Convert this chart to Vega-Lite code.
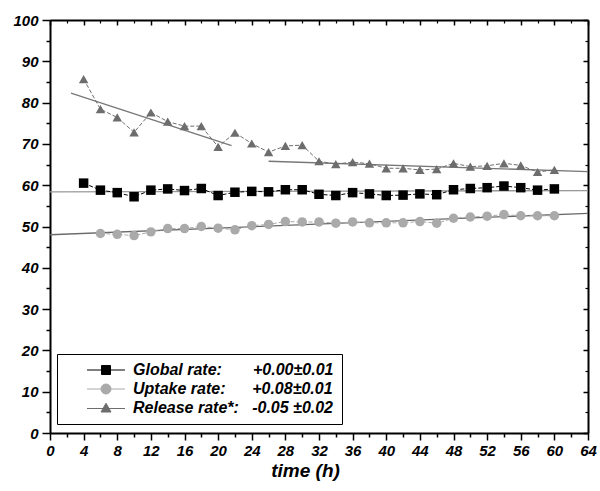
{
  "$schema": "https://vega.github.io/schema/vega-lite/v6.json",
  "width": 538,
  "height": 413,
  "padding": {"left": 0, "top": 0, "right": 5, "bottom": 5},
  "background": "white",
  "config": {
    "view": {"stroke": null},
    "font": "Liberation Sans",
    "axis": {"grid": false, "domainColor": "black", "tickColor": "black", "labelColor": "black", "titleColor": "black"}
  },
  "datasets": {
    "d": [
      {"t": 4, "v": 60.5, "s": "Global rate"},
      {"t": 6, "v": 58.8, "s": "Global rate"},
      {"t": 8, "v": 58.2, "s": "Global rate"},
      {"t": 10, "v": 57.2, "s": "Global rate"},
      {"t": 12, "v": 58.8, "s": "Global rate"},
      {"t": 14, "v": 59.1, "s": "Global rate"},
      {"t": 16, "v": 58.7, "s": "Global rate"},
      {"t": 18, "v": 59.2, "s": "Global rate"},
      {"t": 20, "v": 57.5, "s": "Global rate"},
      {"t": 22, "v": 58.3, "s": "Global rate"},
      {"t": 24, "v": 58.5, "s": "Global rate"},
      {"t": 26, "v": 58.4, "s": "Global rate"},
      {"t": 28, "v": 58.9, "s": "Global rate"},
      {"t": 30, "v": 58.9, "s": "Global rate"},
      {"t": 32, "v": 57.8, "s": "Global rate"},
      {"t": 34, "v": 57.5, "s": "Global rate"},
      {"t": 36, "v": 58.2, "s": "Global rate"},
      {"t": 38, "v": 57.9, "s": "Global rate"},
      {"t": 40, "v": 57.5, "s": "Global rate"},
      {"t": 42, "v": 57.6, "s": "Global rate"},
      {"t": 44, "v": 57.9, "s": "Global rate"},
      {"t": 46, "v": 57.7, "s": "Global rate"},
      {"t": 48, "v": 58.9, "s": "Global rate"},
      {"t": 50, "v": 59.2, "s": "Global rate"},
      {"t": 52, "v": 59.4, "s": "Global rate"},
      {"t": 54, "v": 59.8, "s": "Global rate"},
      {"t": 56, "v": 59.4, "s": "Global rate"},
      {"t": 58, "v": 58.8, "s": "Global rate"},
      {"t": 60, "v": 59.1, "s": "Global rate"},
      {"t": 6, "v": 48.3, "s": "Uptake rate"},
      {"t": 8, "v": 48.1, "s": "Uptake rate"},
      {"t": 10, "v": 47.8, "s": "Uptake rate"},
      {"t": 12, "v": 48.7, "s": "Uptake rate"},
      {"t": 14, "v": 49.5, "s": "Uptake rate"},
      {"t": 16, "v": 49.5, "s": "Uptake rate"},
      {"t": 18, "v": 50.0, "s": "Uptake rate"},
      {"t": 20, "v": 49.6, "s": "Uptake rate"},
      {"t": 22, "v": 49.2, "s": "Uptake rate"},
      {"t": 24, "v": 50.2, "s": "Uptake rate"},
      {"t": 26, "v": 50.5, "s": "Uptake rate"},
      {"t": 28, "v": 51.2, "s": "Uptake rate"},
      {"t": 30, "v": 51.1, "s": "Uptake rate"},
      {"t": 32, "v": 51.1, "s": "Uptake rate"},
      {"t": 34, "v": 50.8, "s": "Uptake rate"},
      {"t": 36, "v": 51.1, "s": "Uptake rate"},
      {"t": 38, "v": 50.9, "s": "Uptake rate"},
      {"t": 40, "v": 50.9, "s": "Uptake rate"},
      {"t": 42, "v": 50.9, "s": "Uptake rate"},
      {"t": 44, "v": 51.2, "s": "Uptake rate"},
      {"t": 46, "v": 50.8, "s": "Uptake rate"},
      {"t": 48, "v": 52.0, "s": "Uptake rate"},
      {"t": 50, "v": 52.3, "s": "Uptake rate"},
      {"t": 52, "v": 52.5, "s": "Uptake rate"},
      {"t": 54, "v": 52.9, "s": "Uptake rate"},
      {"t": 56, "v": 52.6, "s": "Uptake rate"},
      {"t": 58, "v": 52.6, "s": "Uptake rate"},
      {"t": 60, "v": 52.6, "s": "Uptake rate"},
      {"t": 4, "v": 85.7, "s": "Release rate*"},
      {"t": 6, "v": 78.4, "s": "Release rate*"},
      {"t": 8, "v": 76.4, "s": "Release rate*"},
      {"t": 10, "v": 72.8, "s": "Release rate*"},
      {"t": 12, "v": 77.6, "s": "Release rate*"},
      {"t": 14, "v": 75.4, "s": "Release rate*"},
      {"t": 16, "v": 74.3, "s": "Release rate*"},
      {"t": 18, "v": 74.3, "s": "Release rate*"},
      {"t": 20, "v": 69.3, "s": "Release rate*"},
      {"t": 22, "v": 72.7, "s": "Release rate*"},
      {"t": 24, "v": 70.1, "s": "Release rate*"},
      {"t": 26, "v": 68.0, "s": "Release rate*"},
      {"t": 28, "v": 69.5, "s": "Release rate*"},
      {"t": 30, "v": 69.7, "s": "Release rate*"},
      {"t": 32, "v": 65.8, "s": "Release rate*"},
      {"t": 34, "v": 65.1, "s": "Release rate*"},
      {"t": 36, "v": 65.6, "s": "Release rate*"},
      {"t": 38, "v": 65.2, "s": "Release rate*"},
      {"t": 40, "v": 64.1, "s": "Release rate*"},
      {"t": 42, "v": 64.1, "s": "Release rate*"},
      {"t": 44, "v": 63.7, "s": "Release rate*"},
      {"t": 46, "v": 63.9, "s": "Release rate*"},
      {"t": 48, "v": 65.3, "s": "Release rate*"},
      {"t": 50, "v": 64.5, "s": "Release rate*"},
      {"t": 52, "v": 64.7, "s": "Release rate*"},
      {"t": 54, "v": 65.3, "s": "Release rate*"},
      {"t": 56, "v": 64.8, "s": "Release rate*"},
      {"t": 58, "v": 63.2, "s": "Release rate*"},
      {"t": 60, "v": 63.7, "s": "Release rate*"}
    ]
  },
  "resolve": {
    "axis": {"x": "independent", "y": "independent"},
    "scale": {"color": "independent", "shape": "independent", "stroke": "independent"}
  },
  "layer": [
    {
      "data": {"values": [{"t": 0, "v": 58.4}, {"t": 64, "v": 58.7}]},
      "mark": {"type": "line", "color": "#999999", "strokeWidth": 1.3},
      "encoding": {
        "x": {"field": "t", "type": "quantitative", "scale": {"domain": [0, 64], "nice": false},
          "axis": {"orient": "bottom", "values": [2, 6, 10, 14, 18, 22, 26, 30, 34, 38, 42, 46, 50, 54, 58, 62], "labels": false, "domain": false, "tickSize": 4, "tickWidth": 1.5, "title": null}},
        "y": {"field": "v", "type": "quantitative", "scale": {"domain": [0, 100], "nice": false},
          "axis": {"orient": "left", "values": [5, 15, 25, 35, 45, 55, 65, 75, 85, 95], "labels": false, "domain": false, "tickSize": 4, "tickWidth": 1.5, "title": null, "minExtent": 50, "maxExtent": 50}}
      }
    },
    {
      "data": {"values": [{"t": 0, "v": 48.0}, {"t": 64, "v": 53.2}]},
      "mark": {"type": "line", "color": "#6a6a6a", "strokeWidth": 1.3},
      "encoding": {
        "x": {"field": "t", "type": "quantitative",
          "axis": {"orient": "top", "values": [2, 6, 10, 14, 18, 22, 26, 30, 34, 38, 42, 46, 50, 54, 58, 62], "labels": false, "domain": false, "tickSize": -3, "tickWidth": 1.2, "title": null, "minExtent": 20, "maxExtent": 20}},
        "y": {"field": "v", "type": "quantitative",
          "axis": {"orient": "right", "values": [5, 15, 25, 35, 45, 55, 65, 75, 85, 95], "labels": false, "domain": false, "tickSize": -3, "tickWidth": 1.2, "title": null, "minExtent": 0, "maxExtent": 0}}
      }
    },
    {
      "data": {"values": [
        {"t": 2.5, "v": 82.3, "seg": "a"}, {"t": 21.6, "v": 69.6, "seg": "a"},
        {"t": 26, "v": 65.8, "seg": "b"}, {"t": 64, "v": 63.3, "seg": "b"}
      ]},
      "mark": {"type": "line", "color": "#777777", "strokeWidth": 1.3},
      "encoding": {
        "detail": {"field": "seg"},
        "x": {"field": "t", "type": "quantitative",
          "axis": {"orient": "top", "values": [0, 4, 8, 12, 16, 20, 24, 28, 32, 36, 40, 44, 48, 52, 56, 60, 64], "labels": false, "domain": true, "domainWidth": 2, "tickSize": -5, "tickWidth": 1.5, "title": null, "minExtent": 20, "maxExtent": 20}},
        "y": {"field": "v", "type": "quantitative",
          "axis": {"orient": "right", "values": [0, 10, 20, 30, 40, 50, 60, 70, 80, 90, 100], "labels": false, "domain": true, "domainWidth": 2, "tickSize": -5, "tickWidth": 1.5, "title": null, "minExtent": 0, "maxExtent": 0}}
      }
    },
    {
      "data": {"name": "d"},
      "transform": [{"filter": "datum.s === 'Global rate'"}],
      "mark": {"type": "line", "strokeWidth": 1, "strokeDash": [4, 2], "color": "#000000"},
      "encoding": {
        "x": {"field": "t", "type": "quantitative",
          "axis": {"orient": "bottom", "values": [0, 4, 8, 12, 16, 20, 24, 28, 32, 36, 40, 44, 48, 52, 56, 60, 64], "domain": true, "domainWidth": 2, "tickSize": 7, "tickWidth": 1.5, "labelPadding": 3,
            "labelFont": "Liberation Sans", "labelFontSize": 15, "labelFontWeight": "bold", "labelFontStyle": "italic", "labelFlush": false, "labelOverlap": false,
            "title": "time (h)", "titleFont": "Liberation Sans", "titleFontSize": 19, "titleFontWeight": "bold", "titleFontStyle": "italic", "titlePadding": 3, "titleX": 255, "titleAlign": "center"}},
        "y": {"field": "v", "type": "quantitative",
          "axis": {"orient": "left", "values": [0, 10, 20, 30, 40, 50, 60, 70, 80, 90, 100], "domain": true, "domainWidth": 2, "tickSize": 8, "tickWidth": 1.5, "labelPadding": 4,
            "labelFont": "Liberation Sans", "labelFontSize": 15, "labelFontWeight": "bold", "labelFontStyle": "italic", "labelFlush": false, "labelOverlap": false,
            "title": null, "minExtent": 50, "maxExtent": 50}}
      }
    },
    {
      "data": {"name": "d"},
      "transform": [{"filter": "datum.s === 'Uptake rate'"}],
      "mark": {"type": "line", "strokeWidth": 1, "strokeDash": [4, 2], "color": "#aaaaaa"},
      "encoding": {
        "x": {"field": "t", "type": "quantitative", "axis": null},
        "y": {"field": "v", "type": "quantitative", "axis": null}
      }
    },
    {
      "data": {"name": "d"},
      "transform": [{"filter": "datum.s === 'Release rate*'"}],
      "mark": {"type": "line", "strokeWidth": 1, "strokeDash": [4, 2], "color": "#6d6d6d"},
      "encoding": {
        "x": {"field": "t", "type": "quantitative", "axis": null},
        "y": {"field": "v", "type": "quantitative", "axis": null}
      }
    },
    {
      "data": {"name": "d"},
      "mark": {"type": "point", "filled": true, "size": 90, "opacity": 1},
      "encoding": {
        "x": {"field": "t", "type": "quantitative", "axis": null},
        "y": {"field": "v", "type": "quantitative", "axis": null},
        "color": {"field": "s", "type": "nominal",
          "scale": {"domain": ["Global rate", "Uptake rate", "Release rate*"], "range": ["#000000", "#aaaaaa", "#6d6d6d"]},
          "legend": null},
        "shape": {"field": "s", "type": "nominal",
          "scale": {"domain": ["Global rate", "Uptake rate", "Release rate*"], "range": ["square", "circle", "triangle-up"]},
          "legend": null}
      }
    },
    {
      "data": {"name": "d"},
      "transform": [{"filter": "datum.t < 0"}],
      "mark": {"type": "point", "filled": true, "size": 100, "opacity": 1, "strokeWidth": 1},
      "encoding": {
        "x": {"field": "t", "type": "quantitative", "axis": null},
        "y": {"field": "v", "type": "quantitative", "axis": null},
        "color": {"field": "s", "type": "nominal",
          "scale": {"domain": ["Global rate", "Uptake rate", "Release rate*"], "range": ["#000000", "#aaaaaa", "#6d6d6d"]},
          "legend": {
            "title": null, "orient": "none", "legendX": 7, "legendY": 334,
            "strokeColor": "black", "fillColor": "white", "padding": 8,
            "symbolSize": 100, "symbolOffset": 33, "labelOffset": 19, "rowPadding": 3, "symbolStrokeWidth": 1,
            "labelFont": "Liberation Sans", "labelFontSize": 16, "labelFontWeight": "bold", "labelFontStyle": "italic", "labelColor": "black", "labelLimit": 500,
            "labelExpr": "datum.value === 'Global rate' ? 'Global rate:\u00a0\u00a0\u00a0\u00a0\u00a0\u00a0\u00a0+0.00±0.01' : datum.value === 'Uptake rate' ? 'Uptake rate:\u00a0\u00a0\u00a0\u00a0\u00a0\u00a0+0.08±0.01' : 'Release rate*:\u00a0\u00a0\u00a0-0.05 ±0.02'"
          }},
        "stroke": {"field": "s", "type": "nominal",
          "scale": {"domain": ["Global rate", "Uptake rate", "Release rate*"], "range": ["#000000", "#aaaaaa", "#6d6d6d"]},
          "legend": {
            "title": null, "orient": "none", "legendX": 7, "legendY": 334,
            "strokeColor": "black", "fillColor": "white", "padding": 8,
            "symbolSize": 100, "symbolOffset": 33, "labelOffset": 19, "rowPadding": 3, "symbolStrokeWidth": 1,
            "labelFont": "Liberation Sans", "labelFontSize": 16, "labelFontWeight": "bold", "labelFontStyle": "italic", "labelColor": "black", "labelLimit": 500,
            "labelExpr": "datum.value === 'Global rate' ? 'Global rate:\u00a0\u00a0\u00a0\u00a0\u00a0\u00a0\u00a0+0.00±0.01' : datum.value === 'Uptake rate' ? 'Uptake rate:\u00a0\u00a0\u00a0\u00a0\u00a0\u00a0+0.08±0.01' : 'Release rate*:\u00a0\u00a0\u00a0-0.05 ±0.02'"
          }},
        "shape": {"field": "s", "type": "nominal",
          "scale": {"domain": ["Global rate", "Uptake rate", "Release rate*"],
            "range": ["M-3.8,0H3.8M-0.9,-0.9H0.9V0.9H-0.9Z", "M-3.8,0H3.8M-1,0A1,1,0,1,1,1,0A1,1,0,1,1,-1,0Z", "M-3.8,0.1H3.8M0,-0.95L1,0.8L-1,0.8Z"]},
          "legend": {
            "title": null, "orient": "none", "legendX": 7, "legendY": 334,
            "strokeColor": "black", "fillColor": "white", "padding": 8,
            "symbolSize": 100, "symbolOffset": 33, "labelOffset": 19, "rowPadding": 3, "symbolStrokeWidth": 1,
            "labelFont": "Liberation Sans", "labelFontSize": 16, "labelFontWeight": "bold", "labelFontStyle": "italic", "labelColor": "black", "labelLimit": 500,
            "labelExpr": "datum.value === 'Global rate' ? 'Global rate:\u00a0\u00a0\u00a0\u00a0\u00a0\u00a0\u00a0+0.00±0.01' : datum.value === 'Uptake rate' ? 'Uptake rate:\u00a0\u00a0\u00a0\u00a0\u00a0\u00a0+0.08±0.01' : 'Release rate*:\u00a0\u00a0\u00a0-0.05 ±0.02'"
          }}
      }
    }
  ]
}
